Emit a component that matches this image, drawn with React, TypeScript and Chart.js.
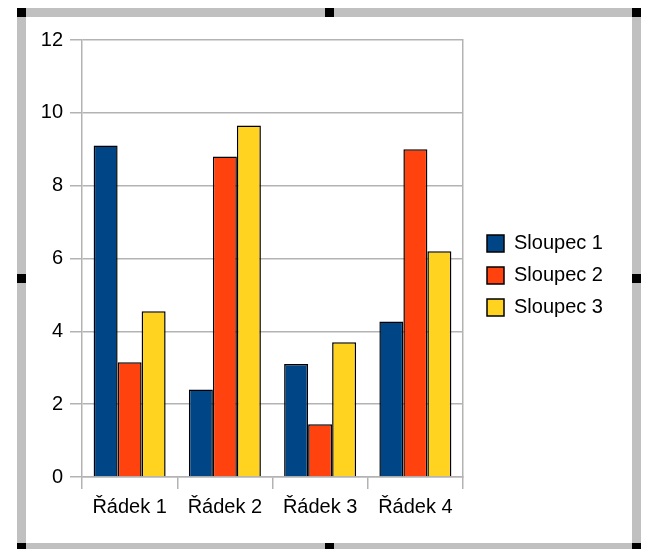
import React, { useEffect, useRef } from "react";
import { Chart, registerables } from "chart.js";

Chart.register(...registerables);

const categories = ["Řádek 1", "Řádek 2", "Řádek 3", "Řádek 4"];
const seriesNames = ["Sloupec 1", "Sloupec 2", "Sloupec 3"];
const sloupec1 = [9.1, 2.4, 3.1, 4.27];
const sloupec2 = [3.15, 8.8, 1.45, 9.0];
const sloupec3 = [4.55, 9.65, 3.7, 6.2];
const seriesColors = ["#004586", "#ff420e", "#ffd320"];
const yMin = 0;
const yMax = 12;
const yStep = 2;

const FONT = "'Liberation Sans', Arial, sans-serif";
const GRID = "#b3b3b3";

export default function App() {
  const ref = useRef<HTMLCanvasElement | null>(null);

  useEffect(() => {
    if (!ref.current) return;
    const values = [sloupec1, sloupec2, sloupec3];
    const chart = new Chart(ref.current, {
      type: "bar",
      data: {
        labels: categories,
        datasets: seriesNames.map((name, i) => ({
          label: name,
          data: values[i],
          backgroundColor: seriesColors[i],
          borderColor: "#000000",
          borderWidth: 1.5,
          categoryPercentage: 0.756,
          barPercentage: 1,
        })),
      },
      options: {
        responsive: false,
        animation: false,
        layout: { padding: { top: 24, bottom: 22, left: 26, right: 36 } },
        plugins: {
          tooltip: { enabled: false },
          legend: {
            position: "right",
            maxWidth: 135,
            labels: {
              boxWidth: 17,
              boxHeight: 17,
              padding: 12,
              color: "#000000",
              font: { family: FONT, size: 20 },
            },
          },
        },
        scales: {
          x: {
            grid: {
              drawOnChartArea: false,
              drawTicks: true,
              tickLength: 12,
              color: GRID,
              lineWidth: 1.5,
            },
            border: { display: true, color: GRID, width: 1.5 },
            ticks: {
              color: "#000000",
              font: { family: FONT, size: 20 },
              padding: 6,
              maxRotation: 0,
            },
            afterFit: (s: any) => {
              s.height = 50;
            },
          },
          x2: {
            type: "category",
            position: "top",
            grid: { display: false },
            border: { display: false },
            ticks: { display: false },
            afterFit: (s: any) => {
              s.height = 16;
            },
          },
          y: {
            min: yMin,
            max: yMax,
            grid: { color: GRID, tickLength: 12, lineWidth: 1.5 },
            border: { display: true, color: GRID, width: 1.5 },
            ticks: {
              stepSize: yStep,
              color: "#000000",
              font: { family: FONT, size: 20 },
              padding: 7,
            },
            afterFit: (s: any) => {
              s.width = 56;
            },
          },
          y2: {
            position: "right",
            grid: { display: false },
            border: { display: true, color: GRID, width: 1.5 },
            ticks: { display: false },
            afterFit: (s: any) => {
              s.width = 12;
            },
          },
        },
      },
    });
    return () => chart.destroy();
  }, []);

  const band = "#c0c0c0";
  const handle = (x: number, y: number) => (
    <div
      key={`${x}-${y}`}
      style={{ position: "absolute", left: x, top: y, width: 9, height: 9, background: "#000" }}
    />
  );

  return (
    <div style={{ position: "absolute", left: 0, top: 0, width: 646, height: 549, background: "#fff", overflow: "hidden" }}>
      <canvas ref={ref} width={646} height={549} style={{ position: "absolute", left: 0, top: 0, display: "block" }} />
      <div style={{ position: "absolute", left: 17, top: 8, width: 624, height: 9, background: band }} />
      <div style={{ position: "absolute", left: 17, top: 543, width: 624, height: 9, background: band }} />
      <div style={{ position: "absolute", left: 17, top: 8, width: 9, height: 545, background: band }} />
      <div style={{ position: "absolute", left: 632, top: 8, width: 9, height: 545, background: band }} />
      {handle(17, 8)}
      {handle(325, 8)}
      {handle(632, 8)}
      {handle(17, 274)}
      {handle(632, 274)}
      {handle(17, 543)}
      {handle(325, 543)}
      {handle(632, 543)}
    </div>
  );
}
